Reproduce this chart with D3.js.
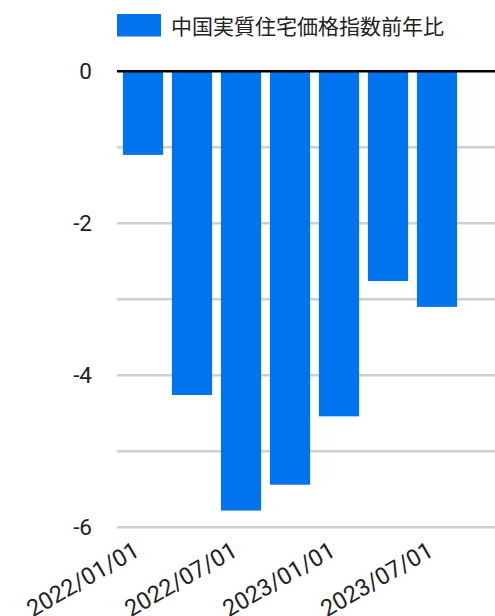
<!DOCTYPE html>
<html>
<head>
<meta charset="utf-8">
<script src="https://cdn.jsdelivr.net/npm/d3@7"></script>
<style>
    body { margin: 0; background: #fff; }
    svg { display: block; }
</style>
</head>
<body>
<div id="chart"></div>
<script>
// data
const seriesName = "中国実質住宅価格指数前年比";
const dates = ["2022/01/01", "2022/04/01", "2022/07/01", "2022/10/01", "2023/01/01", "2023/04/01", "2023/07/01"];
const values = [-1.1, -4.26, -5.78, -5.44, -4.54, -2.76, -3.1];
const yTicks = [0, -1, -2, -3, -4, -5, -6];
const yLabels = [0, -2, -4, -6];
const xLabels = ["2022/01/01", "2022/07/01", "2023/01/01", "2023/07/01"];

const width = 495;
const height = 616;
const barColor = "#0073ee";

const svg = d3.select("#chart").append("svg")
    .attr("width", width)
    .attr("height", height)
    .attr("viewBox", [0, 0, width, height]);

// scales
const xScale = d3.scaleBand()
    .domain(dates)
    .range([118.5, 461.5])
    .paddingInner(0.18)
    .paddingOuter(0.09);

const yScale = d3.scaleLinear()
    .domain([0, -6])
    .range([71.3, 527.3]);

// gridlines
svg.append("g")
    .selectAll("line")
    .data(yTicks.filter(d => d !== 0))
    .join("line")
    .attr("x1", 117)
    .attr("x2", width)
    .attr("y1", d => yScale(d))
    .attr("y2", d => yScale(d))
    .attr("stroke", "#d0d0d0")
    .attr("stroke-width", 2.5);

// y labels
svg.append("g")
    .selectAll("text")
    .data(yLabels)
    .join("text")
    .attr("x", 92)
    .attr("y", d => yScale(d))
    .attr("dy", "0.36em")
    .attr("text-anchor", "end")
    .style("font-family", "Roboto, sans-serif")
    .style("font-size", "22.5px")
    .style("fill", "#222")
    .text(d => d);

// bars
svg.append("g")
    .selectAll("rect")
    .data(values)
    .join("rect")
    .attr("x", (d, i) => xScale(dates[i]))
    .attr("y", yScale(0))
    .attr("width", xScale.bandwidth())
    .attr("height", d => yScale(d) - yScale(0))
    .style("fill", barColor);

// zero line
svg.append("line")
    .attr("x1", 117)
    .attr("x2", width)
    .attr("y1", yScale(0))
    .attr("y2", yScale(0))
    .attr("stroke", "#000")
    .attr("stroke-width", 2.6);

// x labels
svg.append("g")
    .selectAll("text")
    .data(xLabels)
    .join("text")
    .attr("transform", d => {
        const cx = xScale(d) + xScale.bandwidth() / 2 - 2;
        return `translate(${cx},555) rotate(-30)`;
    })
    .attr("text-anchor", "end")
    .style("font-family", "Roboto, sans-serif")
    .style("font-size", "23.5px")
    .style("fill", "#222")
    .text(d => d);

// legend
const legend = svg.append("g");
legend.append("rect")
    .attr("x", 117)
    .attr("y", 14)
    .attr("width", 44)
    .attr("height", 22.5)
    .style("fill", barColor);
legend.append("text")
    .attr("x", 171)
    .attr("y", 26)
    .attr("dy", "0.36em")
    .style("font-family", "'Noto Sans CJK JP', sans-serif")
    .style("font-size", "21px")
    .style("fill", "#222")
    .text(seriesName);
</script>
</body>
</html>
